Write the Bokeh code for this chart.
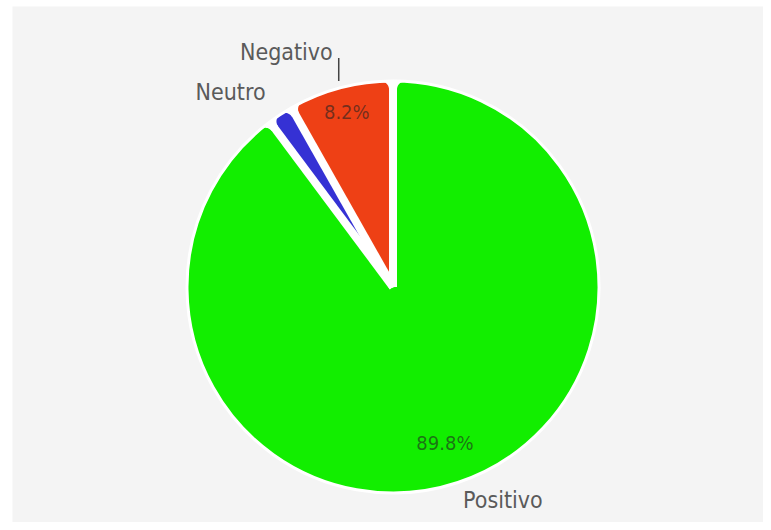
import numpy as np
from bokeh.plotting import figure
from bokeh.models import ColumnDataSource
from bokeh.core.properties import value
from bokeh.embed import file_html
from bokeh.resources import INLINE

# ---- data ----
categories = ["Negativo", "Neutro", "Positivo"]
values = [8.2, 2.0, 89.8]
colors = ["#ee4015", "#3531d4", "#12ee00"]

# ---- geometry / style ----
W, H = 763, 522
LEFT, TOP = 12, 6
FW, FH = W - LEFT, H - TOP
cx, cy = 380.5, 235.5
R = 206          # wedge radius (centre of white rim)
GAP = 4          # half width of white separators
RC = 8           # corner rounding radius
FONT = "DejaVu Sans Condensed, Roboto Condensed, Liberation Sans Narrow, sans-serif"

vals = np.array(values, dtype=float)
frac = vals / vals.sum()
ang = np.cumsum(np.concatenate([[0.0], frac])) * 2 * np.pi + np.pi / 2
start, end = ang[:-1], ang[1:]
mid = (start + end) / 2

src = ColumnDataSource(dict(cat=categories, val=values, color=colors,
                            start=start, end=end, mid=mid))

p = figure(width=W, height=H, x_range=(0, FW), y_range=(0, FH),
           output_backend="svg", toolbar_location=None,
           min_border_left=LEFT, min_border_right=0, min_border_top=TOP,
           min_border_bottom=0, background_fill_color="#f4f4f4",
           border_fill_color="#ffffff", outline_line_color=None)
p.axis.visible = False
p.grid.visible = False

# slices
p.wedge(x=cx, y=cy, radius=R, start_angle="start", end_angle="end",
        fill_color="color", line_color="#ffffff", line_width=3, source=src)
# white separators between slices
p.ray(x=cx, y=cy, length=R + 0.5, angle=start, line_color="#ffffff",
      line_width=2 * GAP)

# white fillets that round the outer corners of each slice
Ro = R
fx, fy = [], []
for th in start:
    for s in (1, -1):
        yc = GAP + RC
        xc = np.sqrt((Ro - RC) ** 2 - yc ** 2)
        phi_c = np.arctan2(yc, xc)
        corner_a = np.arctan2(GAP - 0.6, np.sqrt(Ro ** 2 - GAP ** 2))
        # fillet arc from tangent on circle to tangent on separator
        t = np.linspace(phi_c, -np.pi / 2, 14)
        arc_x = xc + RC * np.cos(t)
        arc_y = yc + RC * np.sin(t)
        # outer rim from corner to tangent point
        rim_t = np.linspace(corner_a, phi_c, 6)
        rim_x = (Ro + 0.5) * np.cos(rim_t)
        rim_y = (Ro + 0.5) * np.sin(rim_t)
        xs = np.concatenate([[xc, Ro + 0.5], rim_x, arc_x])
        ys = np.concatenate([[GAP - 0.6, GAP - 0.6], rim_y, arc_y]) * s
        c, sn = np.cos(th), np.sin(th)
        fx.append(list(cx + xs * c - ys * sn))
        fy.append(list(cy + xs * sn + ys * c))
p.patches(fx, fy, fill_color="#ffffff", line_color=None)

# percentage labels inside slices (skip very small ones)
pct_txt = [f"{v:.1f}%" if v >= 5 else "" for v in values]
pct_r = [0.88 * R if v < 20 else 0.8 * R for v in values]
px = [cx + r * np.cos(m) for r, m in zip(pct_r, mid)]
py = [cy + r * np.sin(m) for r, m in zip(pct_r, mid)]
p.text(x=px, y=py, text=pct_txt, text_align="center", text_baseline="middle",
       text_font=value(FONT), text_font_size="20px", text_color="#222222",
       text_alpha=0.6)

# outer labels
r0 = R + 7
ax = [cx + r0 * np.cos(m) for m in mid]
ay = [cy + r0 * np.sin(m) for m in mid]
# leader line for the first category
lead = 23
p.segment(x0=[ax[0]], y0=[ay[0]], x1=[ax[0]], y1=[ay[0] + lead],
          line_color="#444444", line_width=1.5)
dx = [-6, -11, 3]
dy = [29, 17, -11]
aligns = ["right", "right", "left"]
p.text(x=ax, y=ay, text=categories, x_offset=dx, y_offset=[-d for d in dy],
       text_align=aligns, text_baseline="alphabetic",
       text_font=value(FONT), text_font_size="23px", text_color="#5a5a5a")

open("out.html", "w").write(file_html(p, INLINE))
